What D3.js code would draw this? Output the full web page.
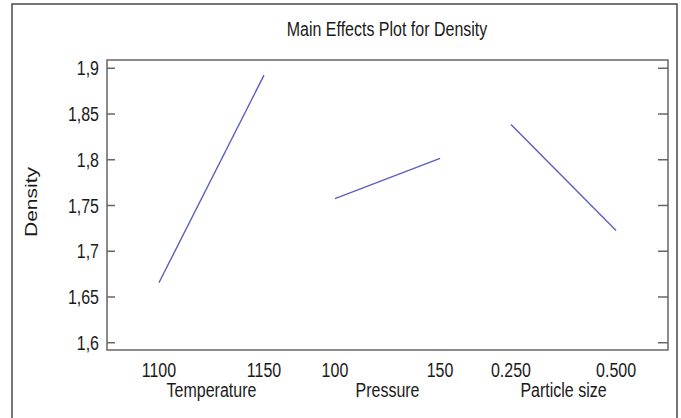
<!DOCTYPE html>
<html>
<head>
<meta charset="utf-8">
<script src="https://cdn.jsdelivr.net/npm/d3@7"></script>
<style>
  html, body { margin: 0; padding: 0; background: #fff; }
  svg text { font-family: "Liberation Sans", Arial, sans-serif; fill: #1a1a1a; }
</style>
</head>
<body>
<svg id="chart" width="681" height="418"></svg>
<script>
const factors = ["Temperature", "Pressure", "Particle size"];
const levelLabels = [["1100", "1150"], ["100", "150"], ["0.250", "0.500"]];
const meanDensity = [[1.665, 1.892], [1.757, 1.801], [1.838, 1.722]];
const yTicks = [1.6, 1.65, 1.7, 1.75, 1.8, 1.85, 1.9];
const yTickLabels = ["1,6", "1,65", "1,7", "1,75", "1,8", "1,85", "1,9"];
const title = "Main Effects Plot for Density";
const yTitle = "Density";

const svg = d3.select("#chart");
const W = 681, H = 418;
const plot = { left: 107, right: 668, top: 60, bottom: 350 };
const SX = 0.82, FS = "19.5px";

// narrow text helper (horizontal compression)
function ntext(sel, x, y, anchor, str) {
  return sel.append("text")
    .attr("transform", `translate(${x},${y}) scale(${SX},1)`)
    .attr("text-anchor", anchor)
    .style("font-size", FS)
    .text(str);
}

// outer frame
svg.append("path")
  .attr("d", `M12,${H + 2} L12,4 L677,4 L677,${H + 2}`)
  .attr("fill", "none").attr("stroke", "#4a4a4a").attr("stroke-width", 1.5);

const y = d3.scaleLinear().domain([1.5915, 1.9085]).range([plot.bottom, plot.top]);
const panel = d3.scaleBand().domain(factors).range([plot.left, plot.right])
  .paddingInner(0.403).paddingOuter(0.295);

function levelX(fi, li) {
  const f = factors[fi];
  const inner = d3.scalePoint().domain(levelLabels[fi]).range([panel(f), panel(f) + panel.bandwidth()]);
  return inner(levelLabels[fi][li]);
}

// plot frame
svg.append("rect")
  .attr("x", plot.left).attr("y", plot.top)
  .attr("width", plot.right - plot.left).attr("height", plot.bottom - plot.top)
  .attr("fill", "none").attr("stroke", "#666").attr("stroke-width", 1.5);

// left axis (ticks inward)
const gl = svg.append("g").attr("transform", `translate(${plot.left},0)`)
  .call(d3.axisRight(y).tickValues(yTicks).tickSize(8).tickFormat(""));
gl.select(".domain").remove();
gl.selectAll(".tick line").attr("stroke", "#666").attr("stroke-width", 1.5);
gl.selectAll(".tick").each(function(d) {
  ntext(d3.select(this), -8, 7, "end", yTickLabels[yTicks.indexOf(d)]);
});

// right axis (ticks inward)
const gr = svg.append("g").attr("transform", `translate(${plot.right},0)`)
  .call(d3.axisLeft(y).tickValues(yTicks).tickSize(10).tickFormat(""));
gr.select(".domain").remove();
gr.selectAll(".tick line").attr("stroke", "#666").attr("stroke-width", 1.5);

// lines and x labels
const line = d3.line().x(d => d[0]).y(d => y(d[1]));
factors.forEach((f, fi) => {
  const pts = meanDensity[fi].map((v, li) => [levelX(fi, li), v]);
  svg.append("path").attr("d", line(pts))
    .attr("fill", "none").attr("stroke", "#5b5fbd").attr("stroke-width", 1.4);
  levelLabels[fi].forEach((lab, li) => {
    ntext(svg, levelX(fi, li), 377, "middle", lab);
  });
  ntext(svg, (levelX(fi, 0) + levelX(fi, 1)) / 2, 397, "middle", f);
});

// title
ntext(svg, 387, 36, "middle", title);

// y title
svg.append("text")
  .attr("transform", `translate(37,202) rotate(-90)`)
  .attr("text-anchor", "middle")
  .style("font-size", "17px")
  .attr("textLength", 70).attr("lengthAdjust", "spacingAndGlyphs")
  .text(yTitle);
</script>
</body>
</html>
